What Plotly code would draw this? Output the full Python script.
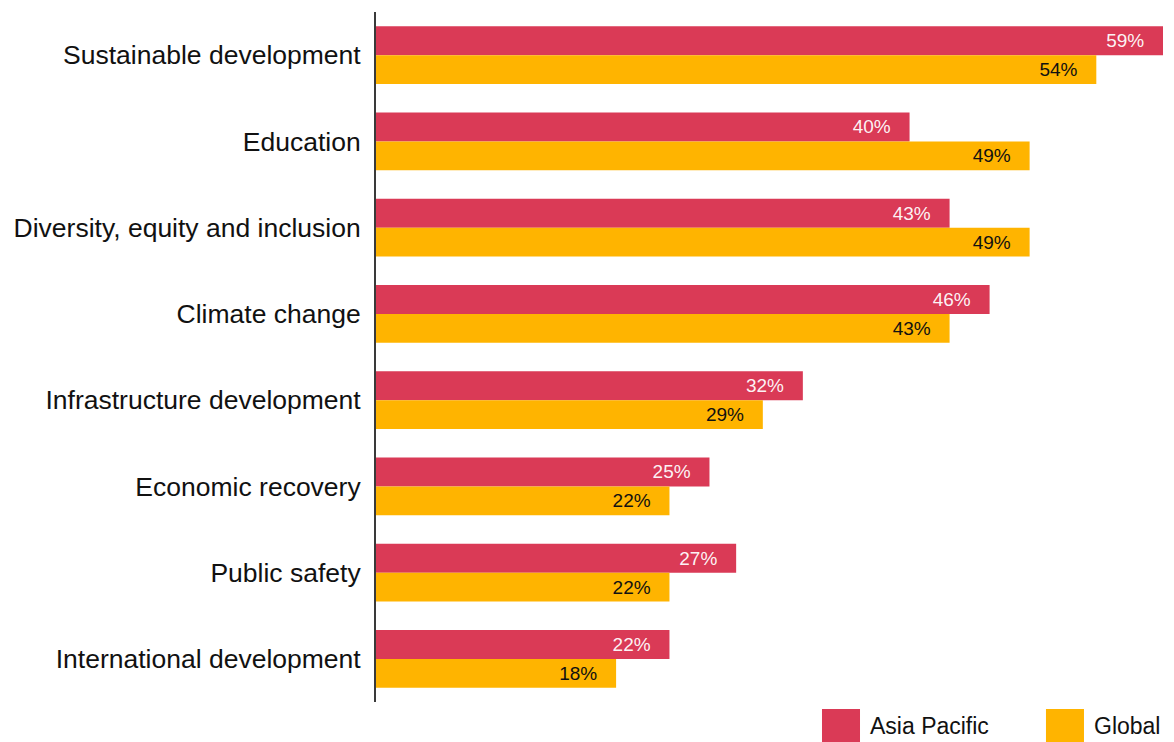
import plotly.graph_objects as go

categories = [
    "Sustainable development",
    "Education",
    "Diversity, equity and inclusion",
    "Climate change",
    "Infrastructure development",
    "Economic recovery",
    "Public safety",
    "International development",
]
asia_pacific = [59, 40, 43, 46, 32, 25, 27, 22]
global_vals = [54, 49, 49, 43, 29, 22, 22, 18]
series_names = ["Asia Pacific", "Global"]

RED = "#DA3A56"
AMBER = "#FFB400"
FONT = "Liberation Sans, Arial, Helvetica, sans-serif"
PAD = "\u00a0\u00a0\u00a0"

fig = go.Figure()
fig.add_trace(go.Bar(
    name=series_names[0], y=categories, x=asia_pacific, orientation="h",
    marker=dict(color=RED, line=dict(width=0)),
    text=[f"{v}%{PAD}" for v in asia_pacific],
    textposition="inside", insidetextanchor="end",
    textfont=dict(color="rgba(255,255,255,0.95)", size=19, family=FONT),
    cliponaxis=False,
))
fig.add_trace(go.Bar(
    name=series_names[1], y=categories, x=global_vals, orientation="h",
    marker=dict(color=AMBER, line=dict(width=0)),
    text=[f"{v}%{PAD}" for v in global_vals],
    textposition="inside", insidetextanchor="end",
    textfont=dict(color="#111111", size=19, family=FONT),
    cliponaxis=False,
))

fig.update_layout(
    width=1174, height=742,
    margin=dict(l=376, r=11, t=12, b=40),
    paper_bgcolor="white", plot_bgcolor="white",
    barmode="group", bargap=0.33, bargroupgap=0,
    showlegend=False,
    uniformtext=dict(mode=False),
    font=dict(family=FONT, color="#111111"),
    xaxis=dict(range=[0, 59], visible=False, fixedrange=True),
    yaxis=dict(
        autorange="reversed", showgrid=False, zeroline=False,
        showline=True, linecolor="#3a3a3a", linewidth=2,
        ticks="", ticklabelstandoff=8,
        tickfont=dict(size=26.5, color="#111111", family=FONT),
    ),
)

# custom legend: large colour swatches beneath the plot, right-aligned
legend_items = [(series_names[0], RED, 0.5667), (series_names[1], AMBER, 0.8513)]
for name, color, x0 in legend_items:
    fig.add_shape(type="rect", xref="paper", yref="paper",
                  x0=x0, x1=x0 + 0.0483, y0=-0.0585, y1=-0.0101,
                  fillcolor=color, line=dict(width=0))
    fig.add_annotation(xref="paper", yref="paper", x=x0 + 0.0585, y=-0.0355,
                       text=name, showarrow=False, xanchor="left", yanchor="middle",
                       font=dict(size=23, color="#111111", family=FONT))

fig.write_html("out.html")
